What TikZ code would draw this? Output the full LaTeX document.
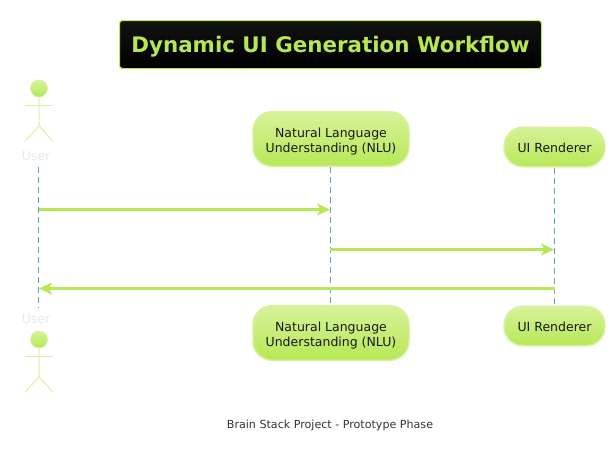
\documentclass[tikz,border=0pt]{standalone}
\usepackage{fontspec}
\setmainfont{DejaVu Sans}
\usepackage{xcolor}
\usetikzlibrary{arrows.meta}
\definecolor{limeline}{rgb}{0.71, 0.91, 0.33}
\definecolor{limetop}{rgb}{0.84, 0.95, 0.60}
\definecolor{limebot}{rgb}{0.72, 0.91, 0.34}
\definecolor{limeedge}{rgb}{0.84, 0.95, 0.62}
\definecolor{lifeblue}{rgb}{0.36, 0.64, 0.77}
\definecolor{titlegreen}{rgb}{0.71, 0.91, 0.33}
\newcommand{\lowtext}[2][6pt]{\begin{tabular}{@{}c@{}}\rule{0pt}{\dimexpr\ht\strutbox+#1\relax}#2\end{tabular}}

\begin{document}
\begin{tikzpicture}[x=1pt,y=-1pt]
	\tikzstyle{partbox} = [draw=limeedge,line width=1.5pt,top color=limetop,bottom color=limebot,rounded corners=19pt,inner sep=0pt,font=\fontsize{12.5}{14.5}\selectfont,text=black!90]
	\tikzstyle{actorname} = [inner sep=0pt,font=\fontsize{12.5}{15}\selectfont,text=black!9]
	\tikzstyle{actorline} = [limeedge,line width=1pt]
	\tikzstyle{lifeline} = [lifeblue,line width=0.9pt,dash pattern=on 6pt off 4pt]
	\tikzstyle{message} = [limeline,line width=2.6pt,-{Stealth[inset=3.5pt,length=13pt,width=12pt]}]

	\useasboundingbox (0,0) rectangle (615,464);

	% Title
	\node (title) at (330.5,44.5) [draw=titlegreen,line width=1pt,top color=black!93,bottom color=black,rounded corners=3pt,minimum width=422pt,minimum height=48pt,inner sep=0pt,text=titlegreen,font=\fontsize{21.4}{24}\selectfont\bfseries] {\lowtext{Dynamic UI Generation Workflow}};

	% Participants
	\node (nluTop) at (331,139) [partbox,minimum width=156pt,minimum height=54.5pt] {\lowtext{Natural Language\\Understanding (NLU)}};
	\node (rendererTop) at (554.5,147) [partbox,minimum width=101pt,minimum height=39.5pt] {\lowtext{UI Renderer}};
	\node (nluBot) at (331,333) [partbox,minimum width=156pt,minimum height=54.5pt] {\lowtext{Natural Language\\Understanding (NLU)}};
	\node (rendererBot) at (554.5,326) [partbox,minimum width=101pt,minimum height=39.5pt] {\lowtext{UI Renderer}};

	% Actors
	\foreach \nm/\hy in {Top/88.5,Bot/339.5}
	{
		\node (head\nm) at (39,\hy) [circle,draw=limeedge,line width=0.6pt,top color=limetop,bottom color=limebot,minimum size=17pt,inner sep=0pt] {};
		\draw[actorline] (head\nm.south) -- ++(0,28.5) -- ++(-14,15.5);
		\draw[actorline] (head\nm.south) ++(0,28.5) -- ++(14,15.5);
		\draw[actorline] (head\nm.south) ++(-14,8.5) -- ++(28,0);
	}
	\node (userTop) at (36,156.5) [actorname] {User};
	\node (userBot) at (36,319.5) [actorname] {User};

	% Lifelines
	\coordinate (userStart) at (38.5,167);
	\coordinate (userEnd) at (38.5,308);
	\draw[lifeline] (userStart) -- (userEnd);
	\draw[lifeline] ([xshift=-0.5pt]nluTop.south) -- ([xshift=-0.5pt]nluBot.north);
	\draw[lifeline] (rendererTop.south) -- (rendererBot.north);

	% Messages
	\coordinate (userA) at (38.5,209.5);
	\coordinate (nluA) at (330,209.5);
	\coordinate (nluB) at (329.5,249.5);
	\coordinate (rendererB) at (554,249.5);
	\coordinate (rendererC) at (555,288.5);
	\coordinate (userC) at (39,288.5);
	\draw[message] (userA) -- (nluA);
	\draw[message] (nluB) -- (rendererB);
	\draw[message] (rendererC) -- (userC);

	% Footer
	\node (footer) at (330,425.2) [inner sep=0pt,text=black!80,font=\fontsize{11.1}{13}\selectfont] {Brain Stack Project - Prototype Phase};
\end{tikzpicture}
\end{document}
